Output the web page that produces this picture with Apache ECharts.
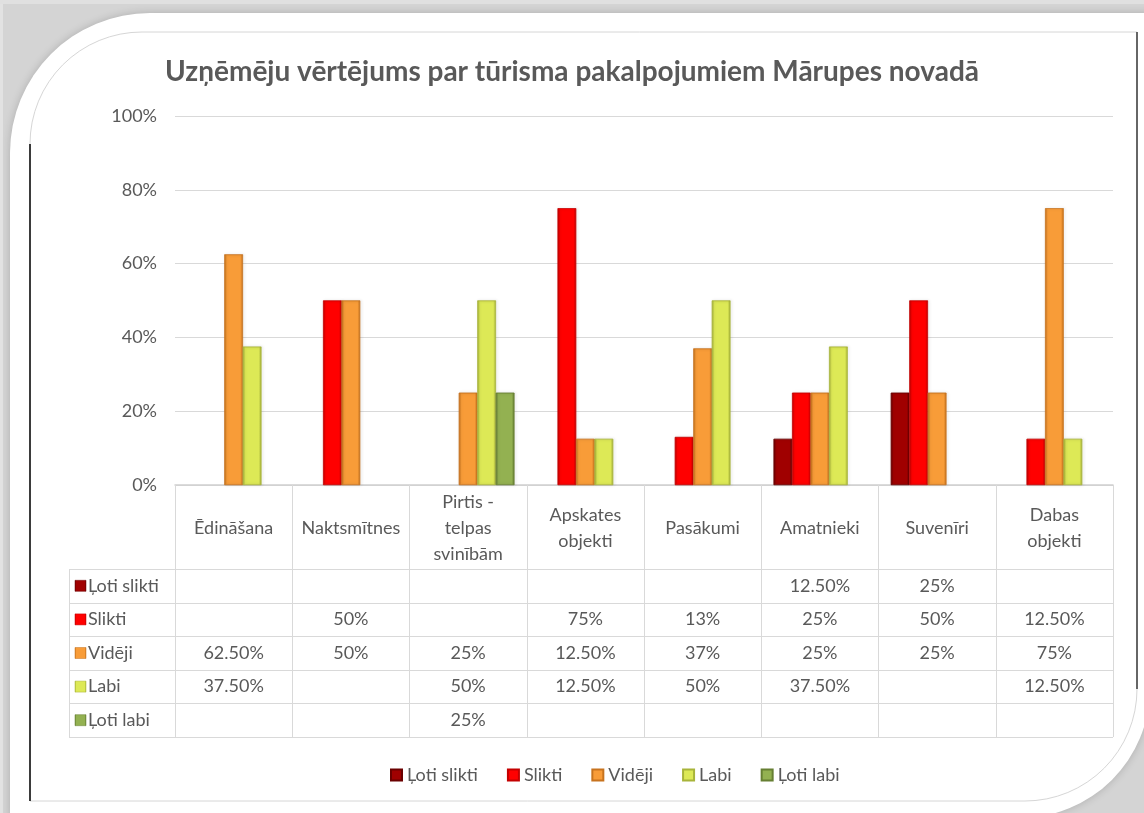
<!DOCTYPE html>
<html>
<head>
<meta charset="utf-8">
<script src="https://cdn.jsdelivr.net/npm/echarts@6/dist/echarts.min.js"></script>
<style>
  html, body { margin: 0; padding: 0; background: #d6d6d6; }
  #chart { width: 1144px; height: 813px; }
</style>
</head>
<body>
<div id="chart"></div>
<script>
// Categories (service types) and ratings per series, in percent
const categories = ['Ēdināšana', 'Naktsmītnes', 'Pirtis -\ntelpas\nsvinībām', 'Apskates\nobjekti',
  'Pasākumi', 'Amatnieki', 'Suvenīri', 'Dabas\nobjekti'];
const seriesNames = ['Ļoti slikti', 'Slikti', 'Vidēji', 'Labi', 'Ļoti labi'];
const lotiSlikti = [null, null, null, null, null, 12.5, 25, null];
const slikti     = [null, 50, null, 75, 13, 25, 50, 12.5];
const videji     = [62.5, 50, 25, 12.5, 37, 25, 25, 75];
const labi       = [37.5, null, 50, 12.5, 50, 37.5, null, 12.5];
const lotiLabi   = [null, null, 25, null, null, null, null, null];
const yTicks = { min: 0, max: 100, interval: 20 };

const seriesValues = [lotiSlikti, slikti, videji, labi, lotiLabi];

// bevelled look: darker edges, brighter body
const palette = [
  { main: '#a00000', edge: '#6a0000' },
  { main: '#ff0000', edge: '#c40000' },
  { main: '#f89c38', edge: '#c7731e' },
  { main: '#dde956', edge: '#a8b43a' },
  { main: '#93b151', edge: '#667f33' }
];
function bevel(p) {
  return new echarts.graphic.LinearGradient(0, 0, 1, 0, [
    { offset: 0, color: p.edge },
    { offset: 0.14, color: p.main },
    { offset: 0.86, color: p.main },
    { offset: 1, color: p.edge }
  ]);
}

function fmt(v) {
  if (v == null) return '';
  return (Number.isInteger(v) ? v.toString() : v.toFixed(2)) + '%';
}

const FONT = 'Lato';
const FS = 18;
const TXT = '#595959';
const LINE = '#d9d9d9';

const chart = echarts.init(document.getElementById('chart'), null, { renderer: 'canvas' });

chart.setOption({
  backgroundColor: 'transparent',
  animation: false,
  textStyle: { fontFamily: FONT },
  title: {
    text: 'Uzņēmēju vērtējums par tūrisma pakalpojumiem Mārupes novadā',
    left: 'center',
    top: 53,
    textStyle: { fontFamily: FONT, fontSize: 28, fontWeight: 'bold', color: TXT }
  },
  legend: {
    data: seriesNames,
    left: 385,
    top: 761,
    itemWidth: 11,
    itemHeight: 11,
    itemGap: 29,
    icon: 'rect',
    textStyle: { fontFamily: FONT, fontSize: FS, color: TXT, padding: [0, 0, 0, 0] }
  },
  grid: { left: 175, right: 31, top: 116, bottom: 328, containLabel: false },
  xAxis: {
    type: 'category',
    data: categories,
    axisLine: { lineStyle: { color: '#d0d0d0', width: 1.5 } },
    axisTick: { show: true, length: 252, lineStyle: { color: LINE, width: 1 } },
    axisLabel: {
      interval: 0,
      margin: 43,
      verticalAlign: 'middle',
      fontFamily: FONT,
      fontSize: FS,
      lineHeight: 26,
      color: TXT
    }
  },
  yAxis: {
    type: 'value',
    min: yTicks.min,
    max: yTicks.max,
    interval: yTicks.interval,
    axisLine: { show: false },
    axisTick: { show: false },
    splitLine: { lineStyle: { color: LINE, width: 1 } },
    axisLabel: { formatter: '{value}%', margin: 18, fontFamily: FONT, fontSize: FS, color: TXT }
  },
  series: seriesNames.map((name, i) => ({
    name: name,
    type: 'bar',
    data: seriesValues[i],
    barWidth: 18.5,
    barGap: '0%',
    itemStyle: {
      color: bevel(palette[i]),
      borderColor: palette[i].edge,
      borderWidth: 0.5,
      shadowColor: 'rgba(0,0,0,0.25)',
      shadowBlur: 3,
      shadowOffsetX: 1,
      shadowOffsetY: 0
    }
  }))
});

// Frame around the chart
const frame = [
  { type: 'rect', z: -30, shape: { x: 0, y: 0, width: 1144, height: 813 }, style: { fill: '#d4d4d4' } },
  { type: 'rect', z: -29, shape: { x: 0, y: 0, width: 3, height: 813 }, style: { fill: '#e2e2e2' } },
  { type: 'rect', z: -29, shape: { x: 0, y: 0, width: 1144, height: 4 }, style: { fill: '#e0e0e0' } },
  {
    type: 'rect', z: -28,
    shape: { x: 10, y: 13, width: 1140, height: 805, r: [140, 0, 130, 0] },
    style: { fill: '#ffffff', shadowColor: 'rgba(0,0,0,0.18)', shadowBlur: 8 }
  },
  {
    type: 'rect', z: -27,
    shape: { x: 30, y: 32, width: 1107, height: 769, r: [112, 0, 112, 0] },
    style: { fill: 'none', stroke: '#d6d6d6', lineWidth: 1 }
  },
  { type: 'line', z: -26, shape: { x1: 30, y1: 144, x2: 30, y2: 801 }, style: { stroke: '#000', lineWidth: 1.5 } },
  { type: 'line', z: -26, shape: { x1: 1137, y1: 32, x2: 1137, y2: 689 }, style: { stroke: '#3a3a3a', lineWidth: 1.5 } }
];

// Data table beneath the axis, laid out from the category axis
const c0 = chart.convertToPixel({ xAxisIndex: 0 }, 0);
const c1 = chart.convertToPixel({ xAxisIndex: 0 }, 1);
const band = c1 - c0;
const tableRight = chart.convertToPixel({ xAxisIndex: 0 }, categories.length - 1) + band / 2;
const baseY = chart.convertToPixel({ yAxisIndex: 0 }, 0);
const headerH = 84;
const rowH = 33.6;
const keyColLeft = 69;
const rowsTop = baseY + headerH;

const table = [];
for (let r = 0; r <= seriesNames.length; r++) {
  const y = Math.round(rowsTop + r * rowH) + 0.5;
  table.push({ type: 'line', shape: { x1: keyColLeft, y1: y, x2: tableRight, y2: y }, style: { stroke: LINE, lineWidth: 1 } });
}
table.push({
  type: 'line',
  shape: { x1: keyColLeft + 0.5, y1: rowsTop, x2: keyColLeft + 0.5, y2: rowsTop + seriesNames.length * rowH },
  style: { stroke: LINE, lineWidth: 1 }
});
seriesNames.forEach((name, r) => {
  const cy = rowsTop + (r + 0.5) * rowH;
  table.push({
    type: 'rect',
    shape: { x: 75, y: cy - 5.5, width: 11, height: 11 },
    style: { fill: bevel(palette[r]), stroke: palette[r].edge, lineWidth: 0.5 }
  });
  table.push({
    type: 'text', x: 88, y: cy,
    style: { text: name, fontFamily: FONT, fontSize: FS, fill: TXT, verticalAlign: 'middle', align: 'left' }
  });
  seriesValues[r].forEach((v, c) => {
    if (v == null) return;
    table.push({
      type: 'text',
      x: chart.convertToPixel({ xAxisIndex: 0 }, c),
      y: cy,
      style: { text: fmt(v), fontFamily: FONT, fontSize: FS, fill: TXT, verticalAlign: 'middle', align: 'center' }
    });
  });
});

chart.setOption({ graphic: { elements: frame.concat(table) } });
</script>
</body>
</html>
